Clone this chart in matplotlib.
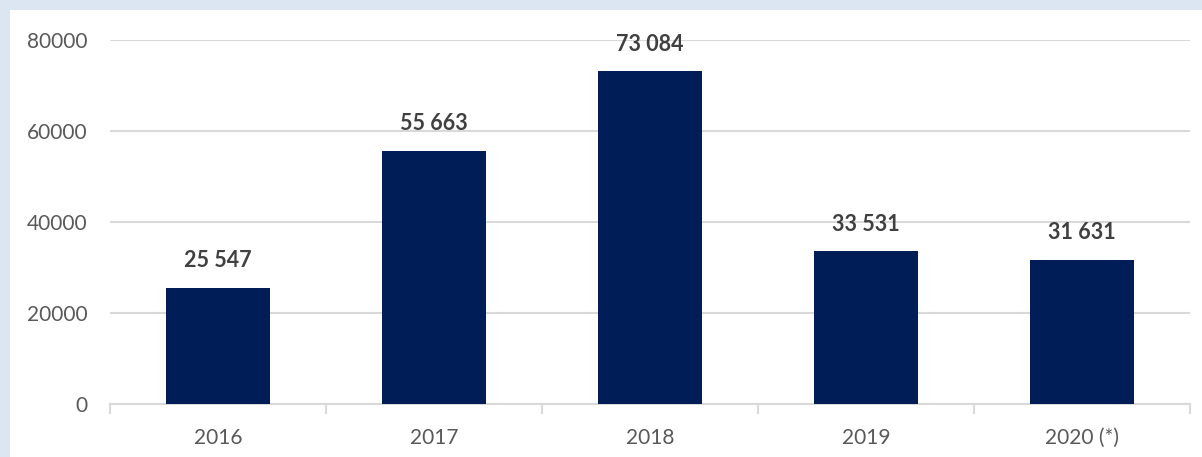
import matplotlib
matplotlib.use("Agg")
import matplotlib.pyplot as plt
from matplotlib.patches import Rectangle

categories = ["2016", "2017", "2018", "2019", "2020 (*)"]
values = [25547, 55663, 73084, 33531, 31631]
value_labels = ["25 547", "55 663", "73 084", "33 531", "31 631"]
yticks = [0, 20000, 40000, 60000, 80000]

W, H = 1202, 457
fig = plt.figure(figsize=(W / 100, H / 100), dpi=100)
fig.patch.set_facecolor("#dce6f2")
fig.patches.append(Rectangle((10 / W, 0), 1 - 10 / W, 1 - 10 / H, transform=fig.transFigure,
                             facecolor="white", edgecolor="none", zorder=-10))

left, right, bottom, top = 110, 1190, 404, 40
ax = fig.add_axes([left / W, 1 - bottom / H, (right - left) / W, (bottom - top) / H])
ax.set_zorder(5)
ax.set_facecolor("none")

x = list(range(len(categories)))
ax.bar(x, values, width=0.48, color="#001d57", zorder=3)
ax.set_xlim(-0.5, len(categories) - 0.5)
ax.set_ylim(0, 80000)

font = "Lato"
for xi, v, lab in zip(x, values, value_labels):
    ax.annotate(lab, (xi, v), xytext=(0, 12), textcoords="offset points", ha="center", va="bottom",
                fontsize=15.5, fontweight="bold", color="#404040", family=font)

ax.set_yticks(yticks)
ax.set_yticklabels([str(t) for t in yticks], fontsize=15, color="#595959", family=font)
ax.yaxis.grid(True, color="#d9d9d9", linewidth=1.5, zorder=0)
ax.tick_params(axis="y", length=0, pad=16)

ax.set_xticks(x)
ax.set_xticklabels(categories, fontsize=15, color="#595959", family=font)
ax.tick_params(axis="x", length=0, pad=17)
for b in [i - 0.5 for i in range(len(categories) + 1)]:
    ax.plot([b, b], [0, -0.025], transform=ax.get_xaxis_transform(), color="#d9d9d9",
            linewidth=1.5, clip_on=False, zorder=2)

for s in ["left", "right", "top"]:
    ax.spines[s].set_visible(False)
ax.spines["bottom"].set_color("#d9d9d9")
ax.spines["bottom"].set_linewidth(1.5)

fig.savefig("out.png", dpi=100, facecolor=fig.get_facecolor())
